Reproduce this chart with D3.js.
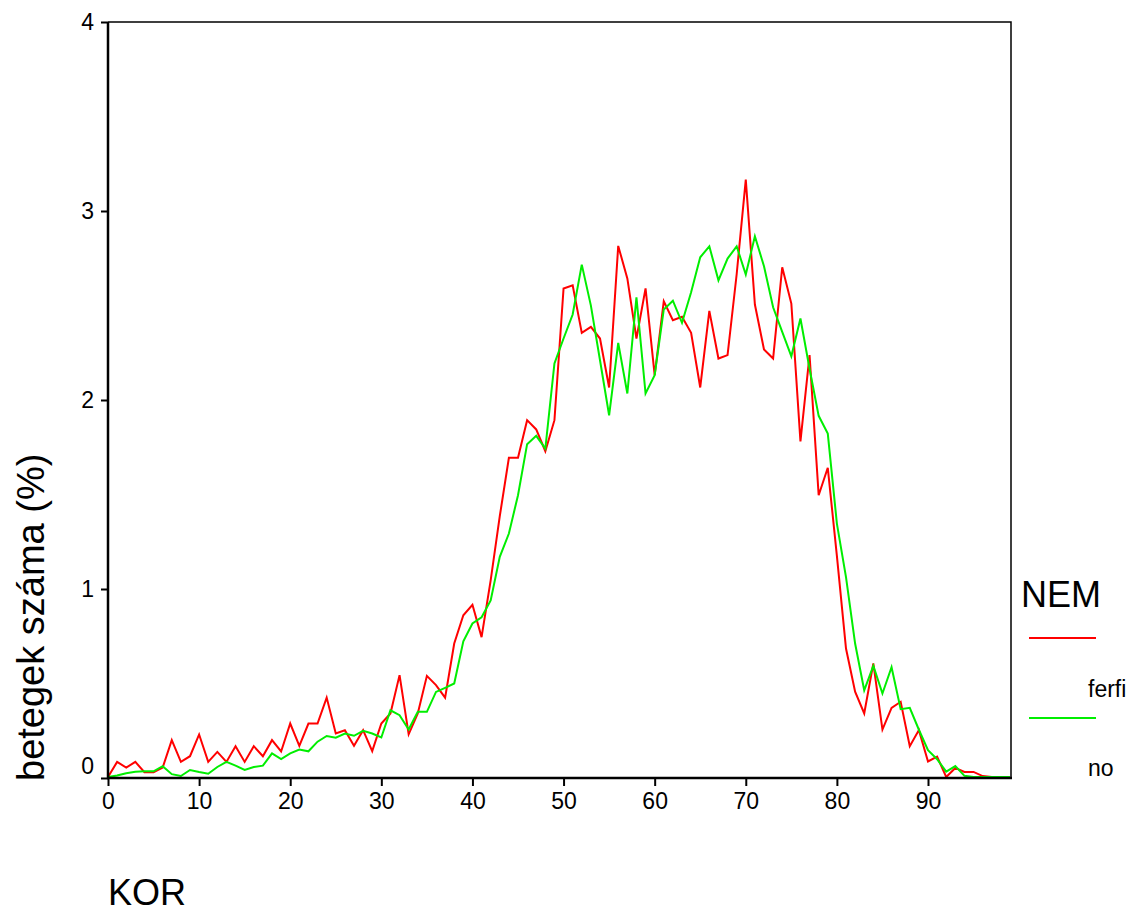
<!DOCTYPE html>
<html>
<head>
<meta charset="utf-8">
<script src="https://cdn.jsdelivr.net/npm/d3@7"></script>
<style>
  html, body { margin: 0; padding: 0; background: #fff; }
  svg { display: block; font-family: "Liberation Sans", Arial, Helvetica, sans-serif; }
</style>
</head>
<body>
<svg id="chart" width="1148" height="915"></svg>
<script>
// Age in years (KOR)
const ages = d3.range(0, 100);

// Share of patients (%) by age, men (ferfi)
const ferfi = [
  0, 0.08, 0.05, 0.08, 0.025, 0.025, 0.05, 0.195, 0.08, 0.11,
  0.225, 0.08, 0.133, 0.08, 0.163, 0.08, 0.163, 0.11, 0.195, 0.135,
  0.283, 0.165, 0.283, 0.283, 0.42, 0.23, 0.247, 0.165, 0.248, 0.137,
  0.283, 0.336, 0.539, 0.226, 0.336, 0.535, 0.486, 0.42, 0.706, 0.856,
  0.911, 0.74, 1.04, 1.38, 1.689, 1.689, 1.888, 1.839, 1.724, 1.888,
  2.585, 2.602, 2.35, 2.382, 2.32, 2.061, 2.81, 2.638, 2.32, 2.585,
  2.126, 2.517, 2.417, 2.435, 2.35, 2.061, 2.466, 2.214, 2.232, 2.66,
  3.161, 2.5, 2.262, 2.214, 2.697, 2.505, 1.776, 2.232, 1.491, 1.636,
  1.17, 0.68, 0.451, 0.336, 0.601, 0.251, 0.366, 0.398, 0.163, 0.248,
  0.082, 0.108, 0, 0.048, 0.027, 0.027, 0.005, 0, 0, 0
];

// Share of patients (%) by age, women (no)
const no = [
  0, 0.008, 0.02, 0.028, 0.03, 0.03, 0.057, 0.015, 0.005, 0.037,
  0.026, 0.017, 0.053, 0.08, 0.06, 0.037, 0.053, 0.06, 0.125, 0.095,
  0.125, 0.145, 0.136, 0.187, 0.217, 0.208, 0.23, 0.218, 0.244, 0.23,
  0.209, 0.353, 0.327, 0.251, 0.345, 0.345, 0.45, 0.472, 0.495, 0.718,
  0.812, 0.845, 0.934, 1.165, 1.288, 1.491, 1.761, 1.805, 1.738, 2.188,
  2.32, 2.447, 2.711, 2.494, 2.205, 1.914, 2.297, 2.029, 2.538, 2.029,
  2.126, 2.474, 2.52, 2.403, 2.565, 2.75, 2.808, 2.628, 2.743, 2.808,
  2.659, 2.861, 2.702, 2.485, 2.355, 2.226, 2.426, 2.16, 1.911, 1.817,
  1.341, 1.058, 0.706, 0.459, 0.588, 0.442, 0.581, 0.359, 0.366, 0.25,
  0.142, 0.094, 0.028, 0.058, 0.006, 0, 0, 0, 0, 0
];

const xTicks = [0, 10, 20, 30, 40, 50, 60, 70, 80, 90];
const yTicks = [0, 1, 2, 3, 4];

const seriesNames = ["ferfi", "no"];
const seriesColors = ["#ff0000", "#00ee00"];
const seriesValues = [ferfi, no];

const svg = d3.select("#chart");

const x = d3.scaleLinear().domain([0, 99]).range([108, 1010]);
const y = d3.scaleLinear().domain([0, 4]).range([778, 22]);

// Plot frame (top and right edges)
svg.append("path")
  .attr("d", `M${x.range()[0]},${y(4)}H${x(99) + 1}V${y(0)}`)
  .attr("fill", "none").attr("stroke", "#000").attr("stroke-width", 1.5);

// Series lines
const line = d3.line().x((d, i) => x(ages[i])).y(d => y(d) - 1);
seriesValues.forEach((vals, k) => {
  svg.append("path")
    .datum(vals)
    .attr("d", line)
    .attr("fill", "none")
    .attr("stroke", seriesColors[k])
    .attr("stroke-width", 2)
    .attr("stroke-linejoin", "miter");
});

// X axis
const xAxis = svg.append("g")
  .attr("transform", `translate(0,${y(0)})`)
  .call(d3.axisBottom(x).tickValues(xTicks).tickSize(8).tickPadding(7).tickSizeOuter(0));
xAxis.select(".domain").attr("stroke-width", 2.5)
  .attr("d", `M${x(0) - 1},0H${x(99) + 2}`);
xAxis.selectAll(".tick line").attr("stroke-width", 2);
xAxis.selectAll(".tick text").attr("font-size", 23).attr("fill", "#000")
  .attr("font-family", "'Liberation Sans', Arial, sans-serif");

// Y axis
const yAxis = svg.append("g")
  .attr("transform", `translate(${x(0)},0)`)
  .call(d3.axisLeft(y).tickValues(yTicks).tickFormat(d3.format("d")).tickSize(7).tickPadding(7).tickSizeOuter(0));
yAxis.select(".domain").attr("stroke-width", 2.5)
  .attr("d", `M0,${y(4)}V${y(0) + 1}`);
yAxis.selectAll(".tick line").attr("stroke-width", 2);
yAxis.selectAll(".tick text").attr("font-size", 23).attr("fill", "#000")
  .attr("font-family", "'Liberation Sans', Arial, sans-serif")
  .attr("dy", d => d === 0 ? "-0.2em" : "0.32em");

// Axis titles
svg.append("text")
  .attr("x", 108).attr("y", 905)
  .attr("font-size", 36)
  .text("KOR");

svg.append("text")
  .attr("transform", "translate(44,781) rotate(-90)")
  .attr("font-size", 38)
  .text("betegek száma (%)");

// Legend
svg.append("text")
  .attr("x", 1021).attr("y", 607)
  .attr("font-size", 36)
  .text("NEM");

const legendY = [638, 718];
const labelY = [697, 776];
seriesNames.forEach((name, k) => {
  svg.append("line")
    .attr("x1", 1029).attr("x2", 1096)
    .attr("y1", legendY[k]).attr("y2", legendY[k])
    .attr("stroke", seriesColors[k]).attr("stroke-width", 2);
  svg.append("text")
    .attr("x", 1088).attr("y", labelY[k])
    .attr("font-size", 23)
    .text(name);
});
</script>
</body>
</html>
